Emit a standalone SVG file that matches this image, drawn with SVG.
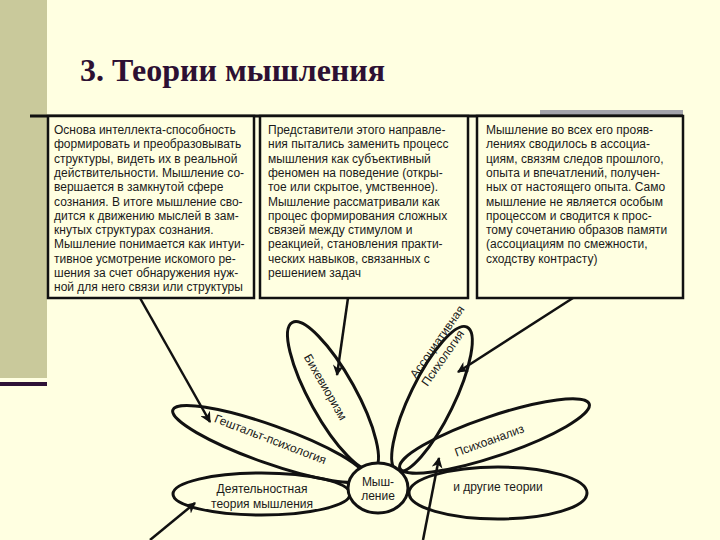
<svg xmlns="http://www.w3.org/2000/svg" width="720" height="540" viewBox="0 0 720 540">
<defs>
<style>
.t{font-family:"Liberation Sans",Arial,sans-serif;font-size:12px;fill:#1a1a1a}
.title{font-family:"Liberation Serif","Times New Roman",serif;font-weight:bold;font-size:31px;fill:#2d1033}
.box{fill:#ffffe1;stroke:#111;stroke-width:2.5}
.pet{fill:none;stroke:#111;stroke-width:3}
.arr{fill:none;stroke:#111;stroke-width:2.5;marker-end:url(#ah)}
.c{text-anchor:middle}
</style>
<marker id="ah" viewBox="0 0 10 10" refX="9" refY="5" markerWidth="11" markerHeight="11" markerUnits="userSpaceOnUse" orient="auto">
<path d="M0,0 L10,5 L0,10 L3,5 z" fill="#111"/>
</marker>
</defs>
<rect width="720" height="540" fill="#ffffe1"/>
<rect x="0" y="0" width="47" height="378" fill="#c9c99b"/>
<rect x="0" y="382" width="47" height="4" fill="#2e1236"/>
<rect x="540" y="110" width="143" height="6" fill="#a3a3ab"/>
<line x1="30" y1="116" x2="683" y2="116" stroke="#111" stroke-width="3"/>
<text class="title" x="80" y="81" textLength="305" lengthAdjust="spacingAndGlyphs">3. Теории мышления</text>

<g id="box1">
<rect class="box" x="48" y="116" width="206" height="182"/>
<text class="t"><tspan x="54" y="134">Основа интеллекта-способность</tspan><tspan x="54" y="148.3">формировать и преобразовывать</tspan><tspan x="54" y="162.6">структуры, видеть их  в реальной</tspan><tspan x="54" y="176.9">действительности. Мышление со-</tspan><tspan x="54" y="191.2">вершается в замкнутой сфере</tspan><tspan x="54" y="205.5">сознания. В итоге мышление сво-</tspan><tspan x="54" y="219.8">дится к движению мыслей в зам-</tspan><tspan x="54" y="234.1">кнутых структурах сознания.</tspan><tspan x="54" y="248.4">Мышление понимается как интуи-</tspan><tspan x="54" y="262.7">тивное усмотрение искомого ре-</tspan><tspan x="54" y="277">шения за счет обнаружения нуж-</tspan><tspan x="54" y="291.3">ной для него связи или структуры</tspan></text>
</g>

<g id="box2">
<rect class="box" x="260" y="116" width="208" height="182"/>
<text class="t"><tspan x="268" y="134">Представители этого направле-</tspan><tspan x="268" y="148.3">ния пытались заменить процесс</tspan><tspan x="268" y="162.6">мышления как субъективный</tspan><tspan x="268" y="176.9">феномен на поведение (откры-</tspan><tspan x="268" y="191.2">тое или скрытое, умственное).</tspan><tspan x="268" y="205.5">Мышление рассматривали как</tspan><tspan x="268" y="219.8">процес формирования сложных</tspan><tspan x="268" y="234.1">связей между стимулом и</tspan><tspan x="268" y="248.4">реакцией, становления практи-</tspan><tspan x="268" y="262.7">ческих навыков, связанных с</tspan><tspan x="268" y="277">решением задач</tspan></text>
</g>

<g id="box3">
<rect class="box" x="477" y="116" width="206" height="182"/>
<text class="t"><tspan x="486" y="134">Мышление во всех его прояв-</tspan><tspan x="486" y="148.3">лениях сводилось в ассоциа-</tspan><tspan x="486" y="162.6">циям, связям следов прошлого,</tspan><tspan x="486" y="176.9">опыта и впечатлений, получен-</tspan><tspan x="486" y="191.2">ных от настоящего опыта. Само</tspan><tspan x="486" y="205.5">мышление не является особым</tspan><tspan x="486" y="219.8">процессом и сводится к прос-</tspan><tspan x="486" y="234.1">тому сочетанию образов памяти</tspan><tspan x="486" y="248.4">(ассоциациям по смежности,</tspan><tspan x="486" y="262.7">сходству контрасту)</tspan></text>
</g>

<g id="behaviorism">
<ellipse class="pet" cx="333" cy="396" rx="84" ry="23" transform="rotate(61 333 396)"/>
<text class="t" transform="translate(303.5 357) rotate(60)">Бихевиоризм</text>
</g>

<g id="association">
<ellipse class="pet" cx="432" cy="399" rx="80" ry="22" transform="rotate(-64 432 399)"/>
<text class="t" transform="translate(416 379) rotate(-55)"><tspan x="0" y="0">Ассоциативная</tspan><tspan x="0" y="14">Психология</tspan></text>
</g>

<g id="gestalt">
<ellipse class="pet" cx="269" cy="444" rx="102" ry="19" transform="rotate(19.5 269 444)"/>
<text class="t" transform="translate(213.5 421.7) rotate(21)">Гештальт-психология</text>
</g>

<g id="psychoanalysis">
<ellipse class="pet" cx="494.5" cy="436" rx="100" ry="20" transform="rotate(-18.7 494.5 436)"/>
<text class="t" transform="translate(456.4 456.8) rotate(-20)">Психоанализ</text>
</g>

<g id="activity">
<ellipse class="pet" cx="261.5" cy="494" rx="88.5" ry="21"/>
<text class="t c"><tspan x="262" y="493">Деятельностная</tspan><tspan x="262" y="508">теория мышления</tspan></text>
</g>

<g id="other">
<ellipse class="pet" cx="498" cy="493" rx="89" ry="26"/>
<text class="t c" x="498" y="491">и другие теории</text>
</g>

<g id="center">
<ellipse cx="378" cy="488" rx="30" ry="25" fill="#ffffe1" stroke="#111" stroke-width="3"/>
<text class="t c"><tspan x="378" y="486">Мыш-</tspan><tspan x="378" y="500">ление</tspan></text>
</g>

<g id="connectors">
<line class="arr" x1="140" y1="298" x2="210" y2="422"/>
<line class="arr" x1="348" y1="298" x2="337" y2="375"/>
<line class="arr" x1="573" y1="298" x2="458" y2="372"/>
<line class="arr" x1="150" y1="540" x2="195" y2="503"/>
<line class="arr" x1="423" y1="540" x2="439" y2="458"/>
</g>
</svg>
